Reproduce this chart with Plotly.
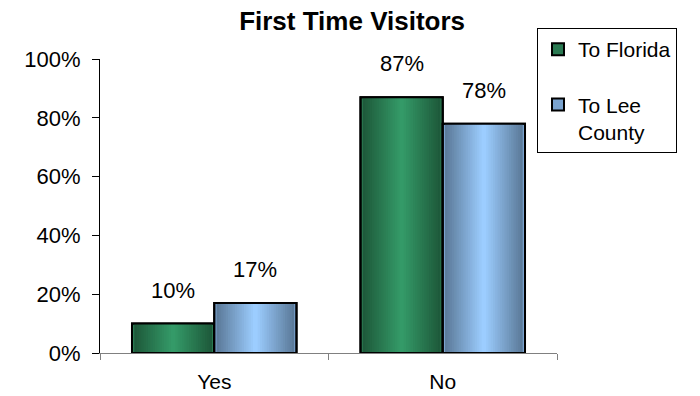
import plotly.graph_objects as go

categories = ["Yes", "No"]
florida = [0.10, 0.87]
lee_county = [0.17, 0.78]
series_names = ["To Florida", "To Lee<br>County"]
label_florida = ["10%", "87%"]
label_lee = ["17%", "78%"]

FONT = "Liberation Sans, Arial, sans-serif"
BAR_W = 0.36
STEPS = 18


def hex2rgb(h):
    h = h.lstrip("#")
    return tuple(int(h[i:i + 2], 16) for i in (0, 2, 4))


def mix(a, b, t):
    ca, cb = hex2rgb(a), hex2rgb(b)
    return "rgb(%d,%d,%d)" % tuple(round(ca[i] + (cb[i] - ca[i]) * t) for i in range(3))


fig = go.Figure()

series = [
    (series_names[0], florida, label_florida, "#1d5638", "#349a68", -BAR_W, "#2a7a52"),
    (series_names[1], lee_county, label_lee, "#587694", "#9ccdff", 0.0, "#7aa3cf"),
]

for gi, (name, vals, labels, dark, light, off, legend_col) in enumerate(series):
    center = off + BAR_W / 2
    # gradient: stacked narrower bars, dark at edges -> light in centre
    for k in range(STEPS):
        frac = 1 - k / STEPS
        w = BAR_W * frac
        color = legend_col if k == 0 else mix(dark, light, k / (STEPS - 1))
        fig.add_trace(go.Bar(
            x=categories, y=vals, name=name,
            width=[w] * len(vals), offset=[center - w / 2] * len(vals),
            marker=dict(color=color,
                        line=dict(color="black", width=2 if k == 0 else 0)),
            showlegend=(k == 0), legendgroup="g%d" % gi,
            hoverinfo="skip" if k else None,
        ))
    # outline on top
    fig.add_trace(go.Bar(
        x=categories, y=vals, name=name,
        width=[BAR_W] * len(vals), offset=[off] * len(vals),
        marker=dict(color="rgba(0,0,0,0)", line=dict(color="black", width=2)),
        showlegend=False, legendgroup="g%d" % gi, hoverinfo="skip",
    ))
    for i, (v, lab) in enumerate(zip(vals, labels)):
        fig.add_annotation(x=i + center, y=v, text=lab, showarrow=False,
                           yanchor="bottom", yshift=19,
                           font=dict(family=FONT, size=22, color="black"))

fig.update_layout(
    width=700, height=396,
    margin=dict(l=100, r=143, t=59, b=43, autoexpand=False),
    paper_bgcolor="white", plot_bgcolor="white",
    barmode="overlay",
    title=dict(text="<b>First Time Visitors</b>", x=0.503, xanchor="center",
               y=1 - 21 / 396, yanchor="middle",
               font=dict(family=FONT, size=26, color="black")),
    font=dict(family=FONT, color="black"),
    legend=dict(xref="container", yref="container",
                x=537 / 700, y=1 - 28 / 396, xanchor="left", yanchor="top",
                bordercolor="black", borderwidth=1, bgcolor="white",
                font=dict(family=FONT, size=21, color="black"),
                tracegroupgap=25, valign="top", itemwidth=30),
    xaxis=dict(type="category", range=[-0.5, 1.5], tickson="boundaries",
               ticks="outside", ticklen=6, tickcolor="#808080",
               showline=True, linecolor="#808080", linewidth=1,
               showgrid=False, zeroline=False, ticklabelstandoff=10,
               tickfont=dict(family=FONT, size=21, color="black")),
    yaxis=dict(range=[0, 1], dtick=0.2, tickformat=".0%",
               ticks="outside", ticklen=7, tickcolor="black",
               showline=True, linecolor="black", linewidth=1,
               showgrid=False, zeroline=False, ticklabelstandoff=7,
               tickfont=dict(family=FONT, size=22, color="black")),
)

fig.write_html("out.html")
